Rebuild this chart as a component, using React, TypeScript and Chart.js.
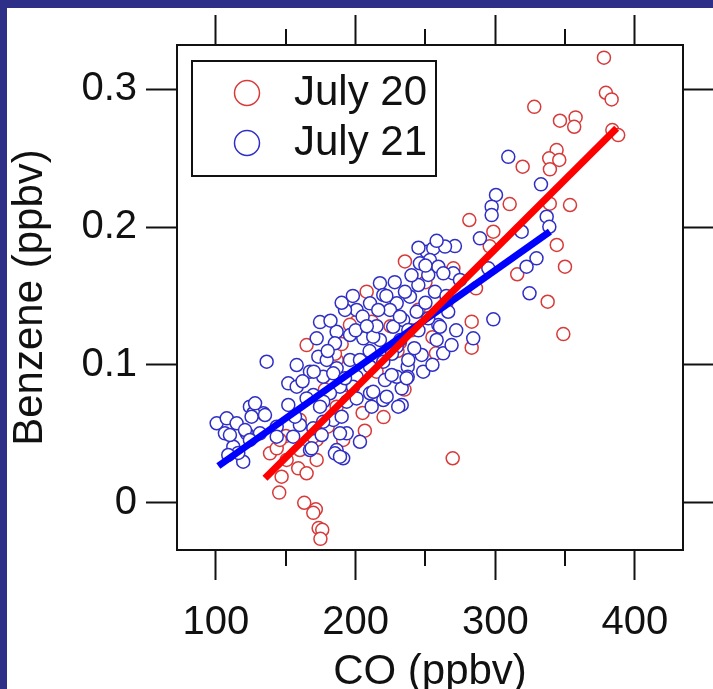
import React, { useEffect, useRef } from 'react';
import { Chart, registerables } from 'chart.js';

Chart.register(...registerables);

// July 20 (red) — CO (ppbv) and Benzene (ppbv)
const july20CO = [
  377.8, 379.2, 383.3, 327.9, 346.3, 357.5, 356.5, 383.8, 388.0, 319.6,
  343.9, 338.6, 345.8, 339.1, 310.3, 353.5, 281.4, 339.0, 298.6, 344.0,
  349.9, 235.3, 315.7, 286.2, 337.5, 348.7, 283.1, 283.1, 257.5, 269.5,
  231.7, 207.9, 200.7, 211.5, 164.9, 186.4, 206.6, 138.7, 150.1, 172.1,
  185.2, 186.4, 143.5, 160.1, 150.6, 147.0, 158.9, 164.9, 145.8, 172.1,
  191.1, 169.7, 145.3, 163.2, 171.5, 169.7, 173.5, 176.1, 174.8, 195.9,
  296.0, 225.0, 240.0, 215.0, 230.0, 195.0, 178.0, 245.0, 255.0, 265.0,
  205.0, 220.0, 160.0, 180.0, 250.0, 270.0, 190.0, 235.0,
];
const july20Benzene = [
  0.323, 0.2975, 0.2927, 0.2873, 0.2772, 0.2796, 0.2728, 0.2704, 0.2668, 0.2438,
  0.2559, 0.2499, 0.2487, 0.2419, 0.2167, 0.216, 0.2051, 0.217, 0.1966, 0.187,
  0.1712, 0.175, 0.1657, 0.1555, 0.1458, 0.1223, 0.1313, 0.1124, 0.1083, 0.0321,
  0.116, 0.1531, 0.1313, 0.1313, 0.1143, 0.1035, 0.0521, 0.0357, 0.0483, 0.0454,
  0.108, 0.0696, 0.0393, 0.0381, 0.0309, 0.0187, 0.0248, 0.0212, 0.0454, 0.0309,
  0.0454, 0.0478, 0.0072, -0.0002, -0.005, -0.0075, -0.0186, -0.0198, -0.0264, 0.129,
  0.186, 0.128, 0.125, 0.095, 0.11, 0.085, 0.082, 0.14, 0.12, 0.145,
  0.065, 0.062, 0.06, 0.055, 0.16, 0.17, 0.115, 0.082,
];

// July 21 (blue)
const july21CO = [
  309.3, 332.7, 300.5, 297.4, 297.4, 336.8, 338.7, 318.9, 289.0, 271.1,
  250.9, 255.6, 253.2, 246.0, 259.2, 269.9, 329.5, 322.4, 295.0, 324.5,
  298.6, 284.2, 262.7, 268.7, 259.2, 266.3, 256.8, 244.9, 238.9, 234.1,
  247.3, 237.3, 248.4, 237.3, 233.0, 233.0, 264.0, 262.8, 217.4, 219.8,
  235.3, 229.4, 210.3, 200.7, 224.6, 243.7, 252.0, 260.4, 237.7, 226.9,
  258.0, 237.7, 229.4, 217.4, 205.5, 196.0, 186.4, 172.1, 185.2, 173.3,
  157.8, 151.8, 157.8, 167.3, 176.8, 186.4, 196.0, 200.7, 210.3, 219.8,
  229.4, 221.0, 210.3, 219.8, 230.5, 198.1, 188.8, 181.6, 169.7, 176.8,
  184.0, 193.6, 203.1, 186.4, 191.1, 167.3, 169.7, 136.3, 124.3, 133.9,
  100.5, 107.7, 114.8, 126.7, 122.0, 106.4, 112.4, 119.5, 131.5, 143.5,
  179.3, 184.0, 151.8, 128.0, 125.5, 135.1, 110.0, 120.8, 124.3, 116.0,
  108.8, 143.5, 160.1, 155.3, 168.5, 175.7, 185.2, 188.8, 156.6, 164.9,
  174.5, 176.8, 190.0, 193.6, 188.8, 212.6, 236.5, 225.8, 212.6, 222.2,
  211.5, 200.7, 203.1, 192.4, 252.0, 231.7, 274.7, 216.2, 174.5, 192.4,
  190.0, 198.0, 205.0, 215.0, 222.0, 228.0, 240.0, 250.0, 245.0, 232.0,
  226.0, 242.0, 255.0, 210.0, 200.0, 180.0, 170.0, 162.0, 245.0, 258.0,
  250.0, 182.0, 208.0, 265.0, 272.0,
];
const july21Benzene = [
  0.251, 0.231, 0.2233, 0.2148, 0.2087, 0.2075, 0.2002, 0.1966, 0.1918, 0.1862,
  0.1821, 0.1845, 0.176, 0.1737, 0.1712, 0.1664, 0.1773, 0.1712, 0.17, 0.1519,
  0.133, 0.1192, 0.1083, 0.1143, 0.1289, 0.1385, 0.153, 0.1579, 0.1494, 0.1325,
  0.1071, 0.0986, 0.095, 0.0913, 0.0829, 0.0708, 0.1858, 0.1664, 0.1592, 0.1507,
  0.153, 0.1446, 0.1446, 0.1398, 0.1398, 0.1385, 0.1337, 0.1276, 0.1252, 0.1276,
  0.118, 0.1035, 0.1131, 0.118, 0.1192, 0.1216, 0.124, 0.1192, 0.1156, 0.1059,
  0.0998, 0.0865, 0.0841, 0.095, 0.0913, 0.0974, 0.1035, 0.0913, 0.0986, 0.1022,
  0.0913, 0.0889, 0.0793, 0.0744, 0.0696, 0.0841, 0.0841, 0.0793, 0.078, 0.0732,
  0.0599, 0.0502, 0.0441, 0.0381, 0.0321, 0.0381, 0.0539, 0.1022, 0.0696, 0.0648,
  0.0575, 0.0611, 0.0575, 0.0648, 0.0502, 0.0502, 0.0405, 0.0296, 0.0502, 0.055,
  0.1035, 0.0938, 0.0708, 0.072, 0.0623, 0.0635, 0.049, 0.0526, 0.0454, 0.036,
  0.0345, 0.0478, 0.0563, 0.0478, 0.0393, 0.049, 0.0357, 0.0333, 0.0623, 0.0756,
  0.0696, 0.0587, 0.0623, 0.0732, 0.0502, 0.1204, 0.0902, 0.0926, 0.0804, 0.0768,
  0.0696, 0.0756, 0.1035, 0.0902, 0.1652, 0.1349, 0.1616, 0.1398, 0.131, 0.1398,
  0.145, 0.15, 0.135, 0.128, 0.15, 0.16, 0.165, 0.145, 0.125, 0.118,
  0.108, 0.112, 0.1, 0.11, 0.125, 0.11, 0.095, 0.088, 0.185, 0.19,
  0.172, 0.132, 0.128, 0.15, 0.125,
];

// Linear fits
const fit20CO = [135.1, 386.9];
const fit20Benzene = [0.0176, 0.2718];
const fit21CO = [101.7, 339.1];
const fit21Benzene = [0.0265, 0.1967];

const seriesLabels = ['July 20', 'July 21'];
const xMajorTicks = [100, 200, 300, 400];
const xTickLabels = ['100', '200', '300', '400'];
const xMinorTicks = [150, 250, 350];
const yTicks = [0, 0.1, 0.2, 0.3];
const yTickLabels = ['0', '0.1', '0.2', '0.3'];

const X_MIN = 72.1;
const X_MAX = 434.4;
const Y_MIN = -0.0345;
const Y_MAX = 0.3322;

const FONT = "Arial, 'Liberation Sans', sans-serif";
const INK = '#111111';
const FRAME = '#2e3087';
const RED_PT = '#d83a3a';
const BLUE_PT = '#2f2fc6';
const RED_LINE = '#ff0000';
const BLUE_LINE = '#0000ff';

const toPoints = (xs: number[], ys: number[]) => xs.map((x, i) => ({ x, y: ys[i] }));

const framePlugin = {
  id: 'frame',
  beforeDraw(chart: any) {
    const ctx = chart.ctx;
    ctx.save();
    ctx.fillStyle = FRAME;
    ctx.fillRect(0, 0, chart.width, chart.height);
    ctx.fillStyle = '#ffffff';
    ctx.fillRect(7, 8, chart.width - 7, chart.height - 8);
    ctx.restore();
  },
};

const minorTickPlugin = {
  id: 'minorTicks',
  afterDraw(chart: any) {
    const ctx = chart.ctx;
    const xs = chart.scales.x;
    const { top, bottom } = chart.chartArea;
    ctx.save();
    ctx.strokeStyle = INK;
    ctx.lineWidth = 2;
    xMinorTicks.forEach((v) => {
      const px = Math.round(xs.getPixelForValue(v));
      ctx.beginPath();
      ctx.moveTo(px, bottom);
      ctx.lineTo(px, bottom + 16);
      ctx.moveTo(px, top);
      ctx.lineTo(px, top - 16);
      ctx.stroke();
    });
    ctx.restore();
  },
};

const legendPlugin = {
  id: 'boxLegend',
  afterDraw(chart: any) {
    const ctx = chart.ctx;
    const left = 192, top = 61, w = 244, h = 115;
    ctx.save();
    ctx.fillStyle = '#ffffff';
    ctx.fillRect(left, top, w, h);
    ctx.lineWidth = 2;
    ctx.strokeStyle = INK;
    ctx.strokeRect(left, top, w, h);
    const items = chart.data.datasets.filter((d: any) => d.legendItem);
    items.forEach((d: any, i: number) => {
      const cy = top + 32 + i * 50;
      ctx.beginPath();
      ctx.arc(left + 55, cy, 12.5, 0, Math.PI * 2);
      ctx.lineWidth = 1.5;
      ctx.strokeStyle = d.borderColor;
      ctx.stroke();
      ctx.fillStyle = INK;
      ctx.font = `42px ${FONT}`;
      ctx.textAlign = 'left';
      ctx.textBaseline = 'middle';
      ctx.fillText(d.label, left + 102, cy);
    });
    ctx.restore();
  },
};

export default function App() {
  const ref = useRef<HTMLCanvasElement | null>(null);

  useEffect(() => {
    if (!ref.current) return;
    const chart = new Chart(ref.current, {
      type: 'scatter',
      data: {
        datasets: [
          {
            label: 'fit20',
            data: toPoints(fit20CO, fit20Benzene),
            showLine: true,
            borderColor: RED_LINE,
            borderWidth: 7,
            borderCapStyle: 'butt',
            pointRadius: 0,
            order: 0,
          } as any,
          {
            label: 'fit21',
            data: toPoints(fit21CO, fit21Benzene),
            showLine: true,
            borderColor: BLUE_LINE,
            borderWidth: 7,
            borderCapStyle: 'butt',
            pointRadius: 0,
            order: 0,
          } as any,
          {
            label: seriesLabels[0],
            legendItem: true,
            data: toPoints(july20CO, july20Benzene),
            borderColor: RED_PT,
            backgroundColor: '#ffffff',
            pointRadius: 6.5,
            pointBorderWidth: 1.5,
            order: 2,
          } as any,
          {
            label: seriesLabels[1],
            legendItem: true,
            data: toPoints(july21CO, july21Benzene),
            borderColor: BLUE_PT,
            backgroundColor: '#ffffff',
            pointRadius: 6.5,
            pointBorderWidth: 1.5,
            order: 1,
          } as any,
        ],
      },
      options: {
        responsive: false,
        animation: false,
        devicePixelRatio: 1,
        layout: { padding: 0, autoPadding: false } as any,
        plugins: {
          legend: { display: false },
          tooltip: { enabled: false },
        },
        scales: {
          x: {
            type: 'linear',
            position: 'bottom',
            min: X_MIN,
            max: X_MAX,
            afterBuildTicks: (s: any) => {
              s.ticks = xMajorTicks.map((v) => ({ value: v }));
            },
            afterFit: (s: any) => {
              s.height = 139;
            },
            ticks: {
              callback: (_v: any, i: number) => xTickLabels[i],
              font: { family: FONT, size: 40, lineHeight: 1.2 },
              color: INK,
              padding: 19,
              maxRotation: 0,
              autoSkip: false,
            },
            grid: { drawOnChartArea: false, drawTicks: true, tickLength: 30, tickWidth: 2, tickColor: INK },
            border: { display: true, width: 2, color: INK },
            title: {
              display: true,
              text: 'CO (ppbv)',
              color: INK,
              font: { family: FONT, size: 42, lineHeight: 0.8 },
              padding: { top: 0, bottom: 0 },
            },
          },
          x2: {
            type: 'linear',
            position: 'top',
            min: X_MIN,
            max: X_MAX,
            afterBuildTicks: (s: any) => {
              s.ticks = xMajorTicks.map((v) => ({ value: v }));
            },
            afterFit: (s: any) => {
              s.height = 45;
            },
            ticks: { display: false },
            grid: { drawOnChartArea: false, drawTicks: true, tickLength: 30, tickWidth: 2, tickColor: INK },
            border: { display: true, width: 2, color: INK },
          },
          y: {
            type: 'linear',
            position: 'left',
            min: Y_MIN,
            max: Y_MAX,
            afterBuildTicks: (s: any) => {
              s.ticks = yTicks.map((v) => ({ value: v }));
            },
            afterFit: (s: any) => {
              s.width = 177;
            },
            ticks: {
              callback: (_v: any, i: number) => yTickLabels[i],
              font: { family: FONT, size: 40, lineHeight: 1.2 },
              color: INK,
              padding: 9,
              autoSkip: false,
            },
            grid: { drawOnChartArea: false, drawTicks: true, tickLength: 31, tickWidth: 2, tickColor: INK },
            border: { display: true, width: 2, color: INK },
            title: {
              display: true,
              text: 'Benzene (ppbv)',
              color: INK,
              font: { family: FONT, size: 42, lineHeight: 0.8 },
              padding: { top: 14, bottom: 0 },
            },
          },
          y2: {
            type: 'linear',
            position: 'right',
            min: Y_MIN,
            max: Y_MAX,
            afterBuildTicks: (s: any) => {
              s.ticks = yTicks.map((v) => ({ value: v }));
            },
            afterFit: (s: any) => {
              s.width = 30;
            },
            ticks: { display: false },
            grid: { drawOnChartArea: false, drawTicks: true, tickLength: 30, tickWidth: 2, tickColor: INK },
            border: { display: true, width: 2, color: INK },
          },
        },
      } as any,
      plugins: [framePlugin, minorTickPlugin, legendPlugin],
    });
    return () => chart.destroy();
  }, []);

  return (
    <div style={{ position: 'fixed', left: 0, top: 0, width: 713, height: 689, overflow: 'hidden' }}>
      <canvas ref={ref} width={713} height={689} style={{ display: 'block' }} />
    </div>
  );
}
